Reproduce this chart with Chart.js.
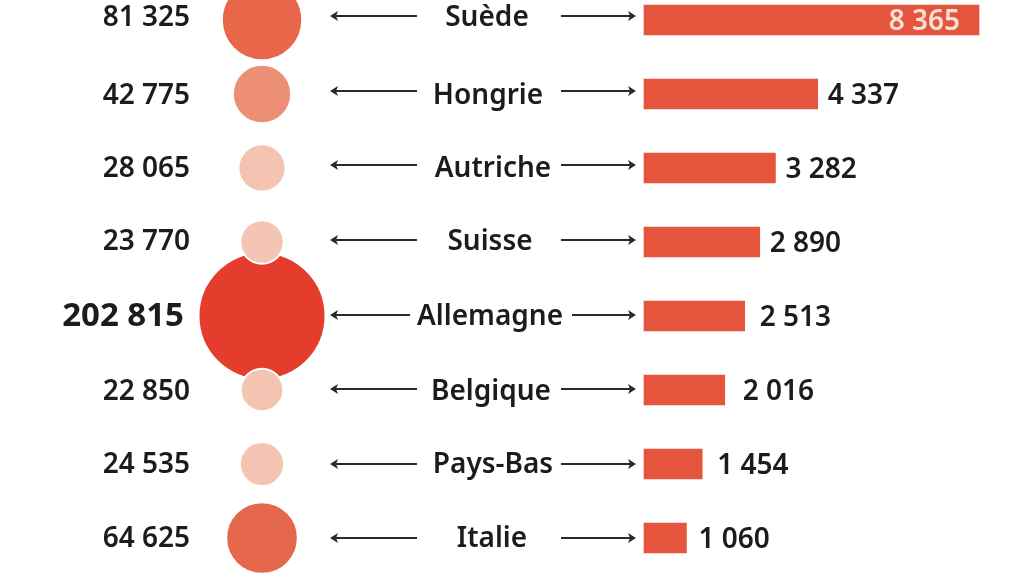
<!DOCTYPE html>
<html lang="fr">
<head>
<meta charset="utf-8">
<title>Allemagne</title>
<script src="https://cdn.jsdelivr.net/npm/chart.js@4"></script>
<style>
html, body { margin: 0; padding: 0; background: #fff; overflow: hidden; }
canvas { display: block; }
</style>
</head>
<body>
<canvas id="chart" width="1024" height="577"></canvas>
<script>
const countries = ['Suède', 'Hongrie', 'Autriche', 'Suisse', 'Allemagne', 'Belgique', 'Pays-Bas', 'Italie'];
const circleValues = [81325, 42775, 28065, 23770, 202815, 22850, 24535, 64625];
const barValues = [8365, 4337, 3282, 2890, 2513, 2016, 1454, 1060];
const circleColors = ['#e8664a', '#ec8f75', '#f5c3b2', '#f4c5b5', '#e43d2e', '#f5c3b2', '#f5c3b2', '#e5684c'];

const barColor = '#e5553e';
const textColor = '#1c1c1c';
const fontFamily = '"Noto Sans", sans-serif';

// horizontal place of the circles, on the bar scale
const circleColumn = -9538;

// small hand adjustments, one per row
const arrowShift = [-4, -3, -3, -2, -1, -1, 0, 0];
const textShift = [-2, 2, 1, 0, 1, 2, 1, 1];
const labelCenter = [487, 488, 493, 490, 490, 491, 493, 492];
const valueGap = [0, 10, 10, 10, 15, 18, 15, 12];

function formatNumber(n) {
    return String(n).replace(/\B(?=(\d{3})+$)/g, '\u00a0');
}

function drawArrow(ctx, fromX, toX, y) {
    const dir = toX > fromX ? 1 : -1;
    ctx.strokeStyle = '#2a2a2a';
    ctx.fillStyle = '#2a2a2a';
    ctx.lineWidth = 1.8;
    ctx.beginPath();
    ctx.moveTo(fromX, y);
    ctx.lineTo(toX - dir * 4, y);
    ctx.stroke();
    ctx.beginPath();
    ctx.moveTo(toX, y);
    ctx.lineTo(toX - dir * 8, y - 5);
    ctx.lineTo(toX - dir * 6, y);
    ctx.lineTo(toX - dir * 8, y + 5);
    ctx.closePath();
    ctx.fill();
}

const rowLabels = {
    id: 'rowLabels',
    afterDraw(chart) {
        const ctx = chart.ctx;
        const xScale = chart.scales.x;
        const yScale = chart.scales.y;
        ctx.save();
        ctx.textBaseline = 'middle';
        countries.forEach((name, i) => {
            const y = yScale.getPixelForValue(i);
            const isMain = name === 'Allemagne';
            const textY = y + textShift[i];

            ctx.fillStyle = textColor;
            ctx.textAlign = 'right';
            ctx.font = (isMain ? '700 33px ' : '600 28px ') + fontFamily;
            ctx.fillText(formatNumber(circleValues[i]), isMain ? 184 : 190, textY);

            ctx.textAlign = 'center';
            ctx.font = '600 28px ' + fontFamily;
            ctx.fillText(name, labelCenter[i], textY);

            const barEnd = xScale.getPixelForValue(barValues[i]);
            if (i === 0) {
                ctx.textAlign = 'right';
                ctx.fillStyle = '#f8e0d6';
                ctx.fillText(formatNumber(barValues[i]), barEnd - 19, y + 2);
            } else {
                ctx.textAlign = 'left';
                ctx.fillText(formatNumber(barValues[i]), barEnd + valueGap[i], y + 2);
            }

            const arrowY = y + arrowShift[i];
            drawArrow(ctx, isMain ? 410 : 417, 330, arrowY);
            drawArrow(ctx, isMain ? 572 : 561, 636, arrowY);
        });
        ctx.restore();
    }
};

// big circles first so the small ones sit on top of them
const circlePoints = circleValues
    .map((value, i) => ({ x: circleColumn, y: i, value: value, color: circleColors[i] }))
    .sort((a, b) => b.value - a.value);

new Chart(document.getElementById('chart').getContext('2d'), {
    data: {
        datasets: [{
            type: 'bar',
            data: barValues.map((value, i) => ({ x: value, y: i })),
            backgroundColor: barColor,
            barThickness: 30,
            indexAxis: 'y'
        }, {
            type: 'bubble',
            data: circlePoints,
            backgroundColor: circlePoints.map(p => p.color),
            borderColor: '#ffffff',
            borderWidth: 2,
            radius: ctx => 0.141 * Math.sqrt(ctx.raw.value),
            clip: false
        }]
    },
    options: {
        indexAxis: 'y',
        responsive: false,
        animation: false,
        layout: { padding: 0, autoPadding: false },
        plugins: {
            legend: { display: false },
            tooltip: { enabled: false }
        },
        scales: {
            x: { type: 'linear', display: false, min: -16080, max: 9488 },
            y: { type: 'linear', display: false, reverse: true, offset: false, min: -0.27, max: 7.527 }
        }
    },
    plugins: [rowLabels]
});
</script>
</body>
</html>
